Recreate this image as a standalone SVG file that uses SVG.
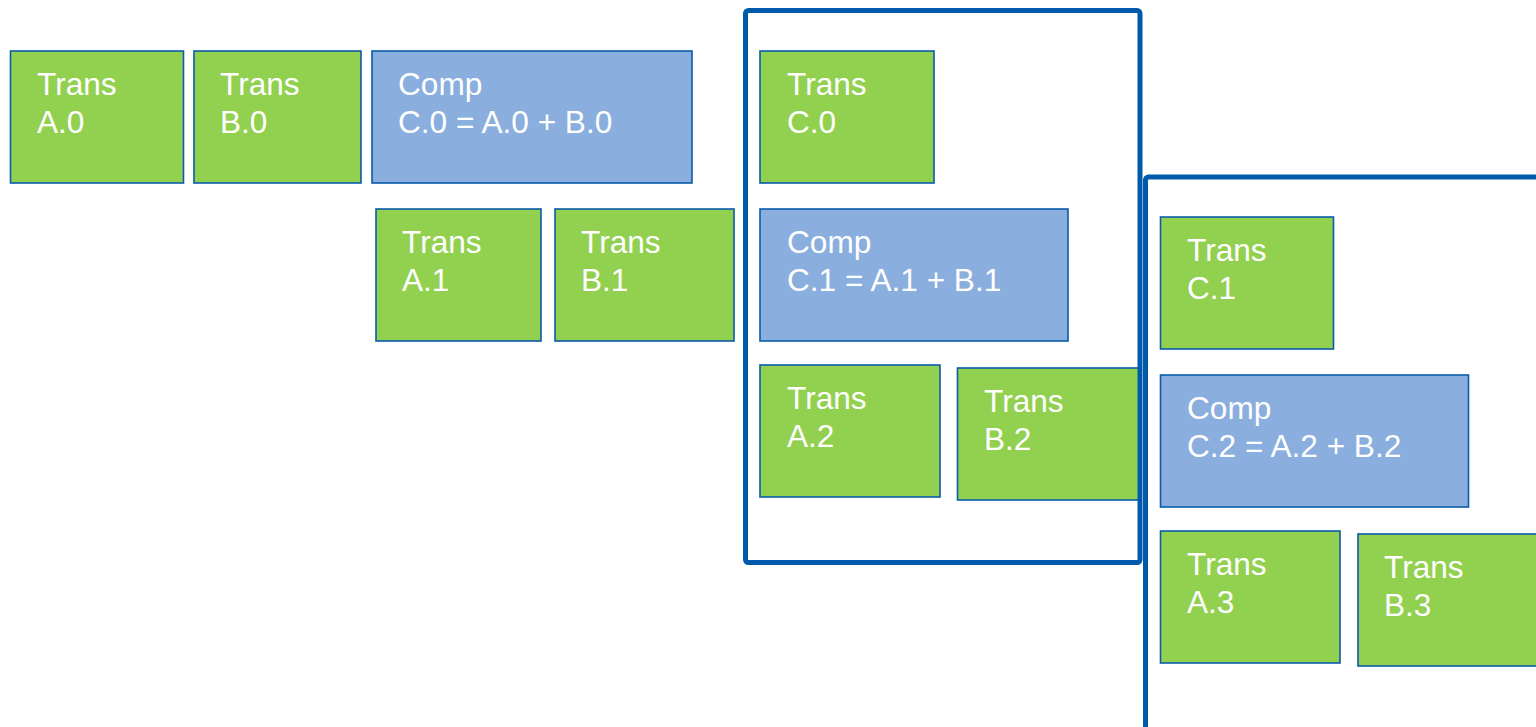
<svg xmlns="http://www.w3.org/2000/svg" width="1536" height="727" viewBox="0 0 1536 727">
  <style>
    .trans { fill: #92d050; stroke: #0a5cab; stroke-width: 1.6; }
    .comp { fill: #8aaedd; stroke: #0a5cab; stroke-width: 1.6; }
    .frame { fill: none; stroke: #005aab; stroke-width: 5; }
    .lbl { font-family: "Liberation Sans", Arial, sans-serif; font-size: 31.6px; fill: #ffffff; }
  </style>
  <rect width="1536" height="727" fill="#ffffff"/>

  <!-- first iteration -->
  <g id="transA0"><rect class="trans" x="10.5" y="51" width="173" height="132"/>
    <text class="lbl" x="37" y="95">Trans</text><text class="lbl" x="37" y="133">A.0</text></g>
  <g id="transB0"><rect class="trans" x="194" y="51" width="167" height="132"/>
    <text class="lbl" x="220" y="95">Trans</text><text class="lbl" x="220" y="133">B.0</text></g>
  <g id="compC0"><rect class="comp" x="372" y="51" width="320" height="132"/>
    <text class="lbl" x="398" y="95">Comp</text><text class="lbl" x="398" y="133">C.0 = A.0 + B.0</text></g>

  <g id="transA1"><rect class="trans" x="376" y="209" width="165" height="132"/>
    <text class="lbl" x="402" y="253">Trans</text><text class="lbl" x="402" y="291">A.1</text></g>
  <g id="transB1"><rect class="trans" x="555" y="209" width="179" height="132"/>
    <text class="lbl" x="581" y="253">Trans</text><text class="lbl" x="581" y="291">B.1</text></g>

  <!-- second iteration -->
  <g id="transC0"><rect class="trans" x="760" y="51" width="174" height="132"/>
    <text class="lbl" x="787" y="95">Trans</text><text class="lbl" x="787" y="133">C.0</text></g>
  <g id="compC1"><rect class="comp" x="760" y="209" width="308" height="132"/>
    <text class="lbl" x="787" y="253">Comp</text><text class="lbl" x="787" y="291">C.1 = A.1 + B.1</text></g>
  <g id="transA2"><rect class="trans" x="760" y="365" width="180" height="132"/>
    <text class="lbl" x="787" y="409">Trans</text><text class="lbl" x="787" y="447">A.2</text></g>
  <g id="transB2"><rect class="trans" x="957.5" y="368" width="182" height="132"/>
    <text class="lbl" x="984" y="412">Trans</text><text class="lbl" x="984" y="450">B.2</text></g>

  <g id="frame1"><rect class="frame" x="745.5" y="10.5" width="394.5" height="552" rx="3"/></g>

  <!-- third iteration -->
  <g id="transC1"><rect class="trans" x="1160.5" y="217" width="173" height="132"/>
    <text class="lbl" x="1187" y="261">Trans</text><text class="lbl" x="1187" y="299">C.1</text></g>
  <g id="compC2"><rect class="comp" x="1160.5" y="375" width="308" height="132"/>
    <text class="lbl" x="1187" y="419">Comp</text><text class="lbl" x="1187" y="457">C.2 = A.2 + B.2</text></g>
  <g id="transA3"><rect class="trans" x="1160.5" y="531" width="179.5" height="132"/>
    <text class="lbl" x="1187" y="575">Trans</text><text class="lbl" x="1187" y="613">A.3</text></g>
  <g id="transB3"><rect class="trans" x="1358" y="534" width="200" height="132"/>
    <text class="lbl" x="1384" y="578">Trans</text><text class="lbl" x="1384" y="616">B.3</text></g>

  <g id="frame2"><rect class="frame" x="1145.5" y="177" width="420" height="600" rx="3"/></g>

  <g id="connectors"></g>
</svg>
